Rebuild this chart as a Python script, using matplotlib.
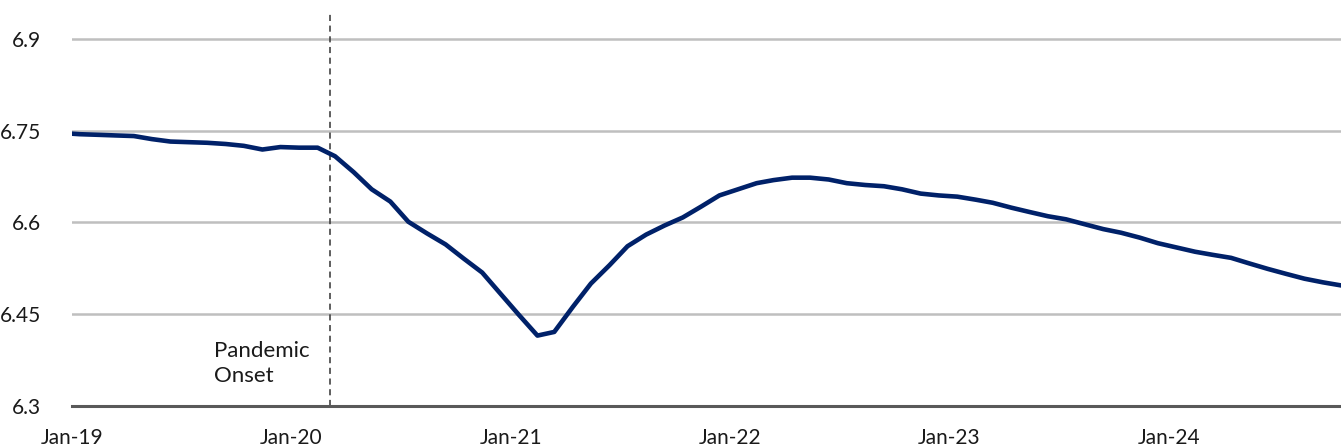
import numpy as np
import pandas as pd
import matplotlib
matplotlib.use("Agg")
import matplotlib.pyplot as plt
import matplotlib.dates as mdates

# monthly values, plotted mid-month (Dec-18 .. Oct-24)
start_month = "2018-12-01"
values = [
    6.746,
    6.744, 6.743, 6.742, 6.741, 6.736, 6.732, 6.731, 6.730, 6.728, 6.725, 6.719, 6.723,  # 2019
    6.722, 6.722, 6.708, 6.682, 6.654, 6.634, 6.601, 6.582, 6.564, 6.541, 6.518, 6.484,  # 2020
    6.449, 6.415, 6.421, 6.462, 6.500, 6.530, 6.561, 6.580, 6.595, 6.608, 6.626, 6.644,  # 2021
    6.654, 6.664, 6.669, 6.673, 6.673, 6.670, 6.664, 6.661, 6.659, 6.654, 6.647, 6.644,  # 2022
    6.642, 6.637, 6.632, 6.624, 6.617, 6.610, 6.605, 6.597, 6.589, 6.583, 6.575, 6.566,  # 2023
    6.559, 6.552, 6.547, 6.542, 6.533, 6.524, 6.516, 6.508, 6.502, 6.497,               # 2024
]
dates = pd.date_range(start_month, periods=len(values), freq="MS") + pd.Timedelta(days=13)

y_ticks = [6.3, 6.45, 6.6, 6.75, 6.9]
y_labels = ["6.3", "6.45", "6.6", "6.75", "6.9"]
x_tick_years = [2019, 2020, 2021, 2022, 2023, 2024]
x_labels = ["Jan-19", "Jan-20", "Jan-21", "Jan-22", "Jan-23", "Jan-24"]
onset_date = pd.Timestamp("2020-03-05")
onset_text = "Pandemic\nOnset"

plt.rcParams["font.family"] = ["Lato", "DejaVu Sans"]

fig = plt.figure(figsize=(13.41, 4.47), dpi=100)
ax = fig.add_axes([72 / 1341, 41 / 447, 1 - 72 / 1341, 393 / 447])

ax.plot(dates, values, color="#002169", lw=3.3, solid_joinstyle="round", zorder=3)

ax.set_xlim(pd.Timestamp("2019-01-01"), pd.Timestamp("2024-10-14"))
ax.set_ylim(6.3, 6.942)

ax.set_yticks(y_ticks)
ax.set_yticklabels(y_labels)
ax.set_xticks([pd.Timestamp(f"{y}-01-01") for y in x_tick_years])
ax.set_xticklabels(x_labels)

ax.grid(axis="y", color="#bfbfbf", lw=1.8)
ax.set_axisbelow(True)
ax.tick_params(length=0, labelsize=15, colors="#1a1a1a")
ax.tick_params(axis="y", pad=22)
ax.tick_params(axis="x", pad=16)

for s in ["top", "right", "left"]:
    ax.spines[s].set_visible(False)
ax.spines["bottom"].set_color("#595959")
ax.spines["bottom"].set_linewidth(2.2)

ax.axvline(onset_date, color="#333333", lw=1.1, ls=(0, (4, 3)), zorder=2)
ax.text(onset_date - pd.Timedelta(days=193), 6.369, onset_text, ha="left", va="center",
        fontsize=16, color="#1a1a1a", linespacing=1.3)

fig.savefig("out.png", dpi=100)
